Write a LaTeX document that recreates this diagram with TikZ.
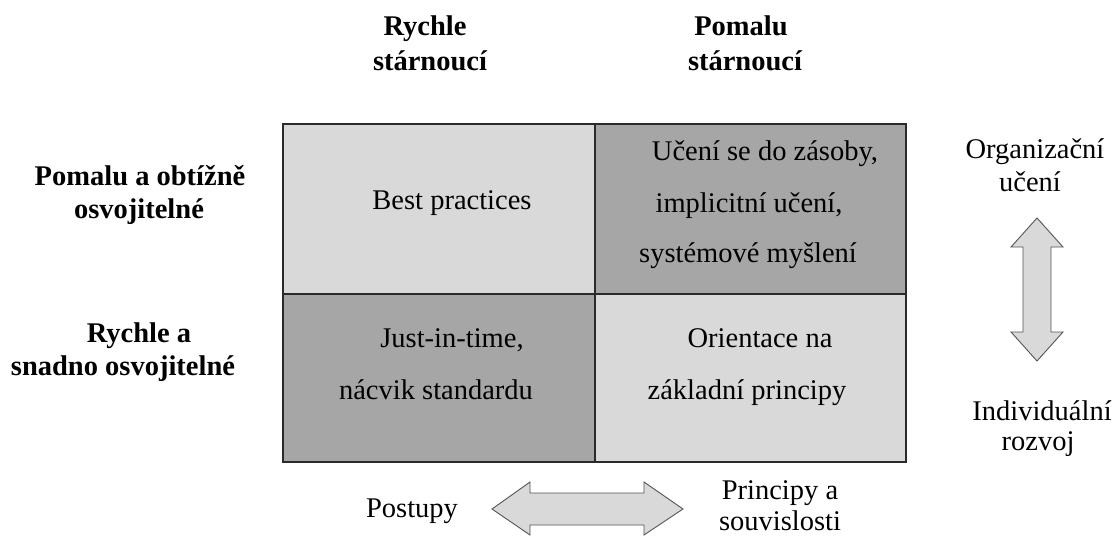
\documentclass[tikz,border=0pt]{standalone}
\usepackage{fontspec}
\setmainfont{Liberation Serif}
\definecolor{lightc}{HTML}{D9D9D9}
\definecolor{darkc}{HTML}{A6A6A6}
\definecolor{gridc}{HTML}{2A2A2A}
\definecolor{arrowc}{HTML}{555555}
\begin{document}
\begin{tikzpicture}[x=1pt,y=-1pt,
  txt/.style={font=\fontsize{28.5}{34}\selectfont, anchor=base, inner sep=0pt},
  hd/.style={txt, font=\fontsize{28.5}{34}\selectfont\bfseries},
  cellbox/.style={draw=gridc, line width=1.5pt, minimum width=311pt, minimum height=170pt, inner sep=0pt, anchor=north west},
  bigarrow/.style={draw=arrowc, line width=0.9pt, fill=lightc, line join=miter}]
\useasboundingbox (0,0) rectangle (1118,536);

% cells
\node[cellbox, fill=lightc, minimum width=312pt] (c11) at (282,123) {};
\node[cellbox, fill=darkc]  (c12) at (594,123) {};
\node[cellbox, fill=darkc, minimum width=312pt, minimum height=168pt]  (c21) at (282,293) {};
\node[cellbox, fill=lightc, minimum height=168pt] (c22) at (594,293) {};

% column headings
\node[hd] (h1a) at (425,35) {Rychle};
\node[hd] (h1b) at (430,70) {stárnoucí};
\node[hd] (h2a) at (741,35) {Pomalu};
\node[hd] (h2b) at (745,70) {stárnoucí};

% row headings
\node[hd] (r1a) at (140,185) {Pomalu a obtížně};
\node[hd] (r1b) at (139,218) {osvojitelné};
\node[hd] (r2a) at (139,342) {Rychle a};
\node[hd] (r2b) at (123,375) {snadno osvojitelné};

% cell texts
\node[txt] (t11) at (452,209) {Best practices};
\node[txt] (t12a) at (765,160) {Učení se do zásoby,};
\node[txt] (t12b) at (749,212) {implicitní učení,};
\node[txt] (t12c) at (748,262) {systémové myšlení};
\node[txt] (t21a) at (452,347) {Just-in-time,};
\node[txt] (t21b) at (436,399) {nácvik standardu};
\node[txt] (t22a) at (760,347) {Orientace na};
\node[txt] (t22b) at (747,399) {základní principy};

% right side
\node[txt] (o1) at (1035,158) {Organizační};
\node[txt] (o2) at (1030,191) {učení};
\node[txt] (i1) at (1042,420) {Individuální};
\node[txt] (i2) at (1038,450) {rozvoj};

% bottom
\node[txt] (p1) at (412,517) {Postupy};
\node[txt] (s1) at (780,499) {Principy a};
\node[txt] (s2) at (780,530) {souvislosti};

% horizontal double arrow
\draw[bigarrow] (492,509) -- (530,482) -- (530,493) -- (644,493) -- (644,482)
  -- (683,509) -- (644,535) -- (644,525) -- (530,525) -- (530,535) -- cycle;

% vertical double arrow
\draw[bigarrow] (1037,218) -- (1063,247) -- (1051,247) -- (1051,332) -- (1063,332)
  -- (1037,361) -- (1011,332) -- (1023,332) -- (1023,247) -- (1011,247) -- cycle;
\end{tikzpicture}
\end{document}
